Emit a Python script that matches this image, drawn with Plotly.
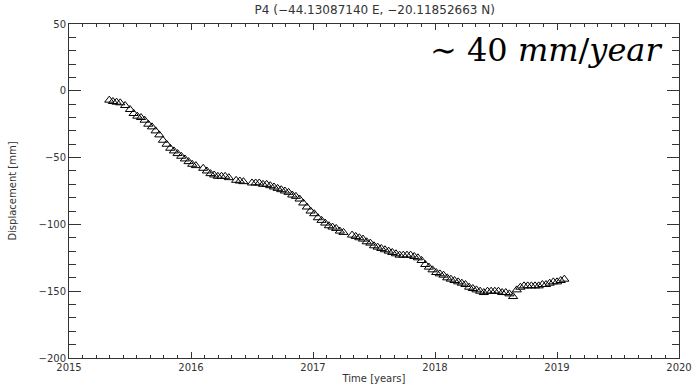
import plotly.graph_objects as go

# Acquisition epochs (decimal years) and line-of-sight displacement (mm) for point P4
time_years = [
    2015.33, 2015.36, 2015.39, 2015.42, 2015.46, 2015.50, 2015.53, 2015.56, 2015.59, 2015.62,
    2015.65, 2015.68, 2015.71, 2015.74, 2015.77, 2015.80, 2015.83, 2015.86, 2015.89, 2015.92,
    2015.95, 2015.98, 2016.01, 2016.04, 2016.10, 2016.13, 2016.16, 2016.19, 2016.22, 2016.25,
    2016.28, 2016.31, 2016.37, 2016.40, 2016.43, 2016.50, 2016.53, 2016.56, 2016.59, 2016.62,
    2016.65, 2016.68, 2016.71, 2016.74, 2016.77, 2016.80, 2016.83, 2016.86, 2016.89, 2016.92,
    2016.95, 2016.98, 2017.01, 2017.04, 2017.07, 2017.10, 2017.13, 2017.16, 2017.19, 2017.22,
    2017.25, 2017.32, 2017.35, 2017.38, 2017.41, 2017.44, 2017.47, 2017.50, 2017.53, 2017.56,
    2017.59, 2017.62, 2017.65, 2017.68, 2017.71, 2017.74, 2017.77, 2017.80, 2017.83, 2017.86,
    2017.89, 2017.92, 2017.95, 2017.98, 2018.01, 2018.04, 2018.07, 2018.10, 2018.13, 2018.16,
    2018.19, 2018.22, 2018.25, 2018.28, 2018.31, 2018.34, 2018.37, 2018.40, 2018.43, 2018.46,
    2018.49, 2018.52, 2018.55, 2018.58, 2018.61, 2018.64, 2018.67, 2018.70, 2018.73, 2018.76,
    2018.79, 2018.82, 2018.85, 2018.88, 2018.91, 2018.94, 2018.97, 2019.00, 2019.03, 2019.06,
]
displacement_mm = [
    -7, -8, -8.5, -9, -11, -14, -17, -19, -20, -22,
    -25, -27, -30, -33, -37, -40, -43, -45, -47, -49,
    -51, -53, -55, -56, -58, -60, -62, -63, -64, -64,
    -64, -65, -67, -67.5, -68, -69, -69, -69, -70, -70,
    -71, -72, -73, -74, -75, -76, -78, -79, -81, -84,
    -87, -90, -92, -95, -97, -99, -101, -102, -103, -105,
    -106, -108, -109, -110, -111, -113, -114, -116, -117, -118,
    -119, -120, -121, -122, -123, -123, -123, -123, -124, -125,
    -127, -130, -132, -134, -136, -137, -138, -140, -141, -142,
    -143, -144, -145, -147, -148, -149, -150, -151, -150, -150,
    -150, -150, -151, -151, -152, -154, -149, -147, -146, -146,
    -146, -146, -146, -145, -145, -144, -143, -143, -142, -141,
]

x_ticks = [2015, 2016, 2017, 2018, 2019, 2020]
y_ticks = [50, 0, -50, -100, -150, -200]
y_tick_text = ["50", "0", "\u221250", "\u2212100", "\u2212150", "\u2212200"]

title_text = "P4 (\u221244.13087140 E, \u221220.11852663 N)"
rate_text = "\u223c 40 <i>mm</i>/<i>year</i>"

axis_color = "#333333"
label_font = dict(family="DejaVu Sans", size=10, color="#333333")

fig = go.Figure()
fig.add_trace(go.Scatter(
    x=time_years, y=displacement_mm, mode="markers",
    marker=dict(symbol="triangle-up-open", size=8, color="black",
                line=dict(width=1, color="black")),
    showlegend=False, hoverinfo="x+y",
))

fig.update_xaxes(
    range=[2015, 2020], tickvals=x_ticks, ticktext=[str(v) for v in x_ticks],
    showgrid=False, zeroline=False, automargin=False,
    showline=True, linecolor=axis_color, linewidth=1, mirror="allticks",
    ticks="inside", ticklen=6, tickwidth=1, tickcolor=axis_color,
    minor=dict(ticks="inside", ticklen=3, tickwidth=1, tickcolor=axis_color,
               dtick=1/9, tick0=2015, showgrid=False),
    tickfont=label_font,
    title=dict(text="Time [years]", font=label_font, standoff=2),
)
fig.update_yaxes(
    range=[-200, 50], tickvals=y_ticks, ticktext=y_tick_text,
    showgrid=False, zeroline=False, automargin=False,
    showline=True, linecolor=axis_color, linewidth=1, mirror="allticks",
    ticks="inside", ticklen=12, tickwidth=1, tickcolor=axis_color,
    minor=dict(ticks="inside", ticklen=7, tickwidth=1, tickcolor=axis_color,
               dtick=10, tick0=0, showgrid=False),
    tickfont=label_font,
    title=dict(text="Displacement [mm]", font=label_font, standoff=20),
)

fig.add_annotation(
    text=rate_text, xref="paper", yref="paper", x=0.975, y=0.985,
    xanchor="right", yanchor="top", showarrow=False,
    font=dict(family="DejaVu Serif", size=32, color="black"),
)

fig.update_layout(
    width=694, height=387,
    margin=dict(l=69, r=15, t=24, b=29),
    plot_bgcolor="white", paper_bgcolor="white",
    title=dict(text=title_text, x=0.54, xanchor="center", y=0.985, yanchor="top",
               font=dict(family="DejaVu Sans", size=12, color="#333333")),
)

fig.write_html("out.html")
